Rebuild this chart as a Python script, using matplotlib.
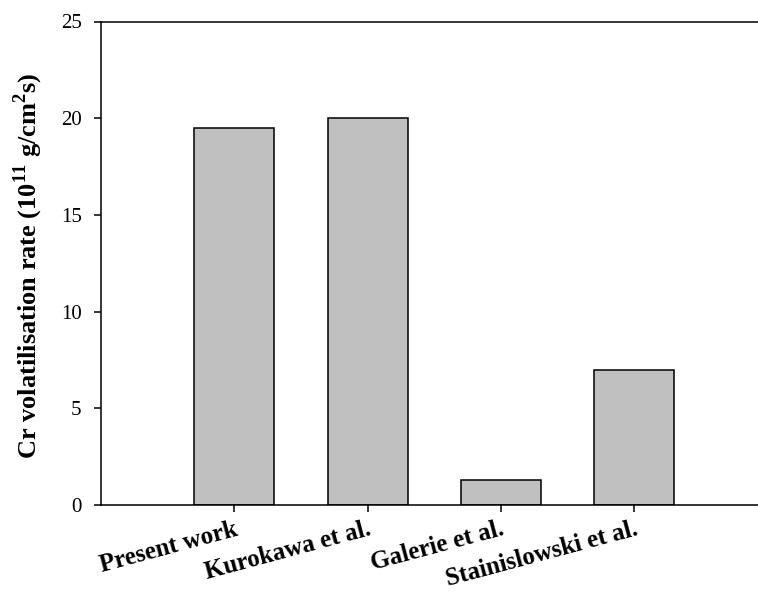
import matplotlib
matplotlib.use("Agg")
import matplotlib.pyplot as plt

categories = ["Present work", "Kurokawa et al.", "Galerie et al.", "Stainislowski et al."]
values = [19.5, 20.0, 1.3, 7.0]
yticks = [0, 5, 10, 15, 20, 25]

plt.rcParams['font.family'] = ['Liberation Serif', 'DejaVu Serif']
plt.rcParams['mathtext.fontset'] = 'custom'
plt.rcParams['mathtext.rm'] = 'Liberation Serif:bold'
plt.rcParams['mathtext.bf'] = 'Liberation Serif:bold'

fig = plt.figure(figsize=(7.58, 5.92), dpi=100)
W, H = 758, 592
ax = fig.add_axes([101 / W, 1 - 505 / H, (758 - 101) / W, (505 - 21.5) / H])

x = list(range(1, len(categories) + 1))
ax.bar(x, values, width=0.6, color='#c0c0c0', edgecolor='black', linewidth=1.1)

ax.set_xlim(0, 4.93)
ax.set_ylim(0, 25)
ax.set_yticks(yticks)
ax.set_yticklabels([str(v) for v in yticks], fontsize=15)
ax.set_xticks(x)
ax.set_xticklabels(categories, fontsize=18, fontweight='bold', rotation=15,
                   ha='right', rotation_mode='anchor')
ax.tick_params(axis='both', direction='out', length=5, width=1.1)
ax.tick_params(axis='x', pad=4)
ax.tick_params(axis='y', pad=9)

for s in ['left', 'bottom', 'top']:
    ax.spines[s].set_linewidth(1.1)
ax.spines['right'].set_visible(False)

ax.set_ylabel(r'Cr volatilisation rate (10$^{\mathbf{11}}$ g/cm$^{\mathbf{2}}$s)',
              fontsize=19, fontweight='bold')
ax.yaxis.set_label_coords(-0.085, 0.495)

fig.savefig('out.png', dpi=100)
